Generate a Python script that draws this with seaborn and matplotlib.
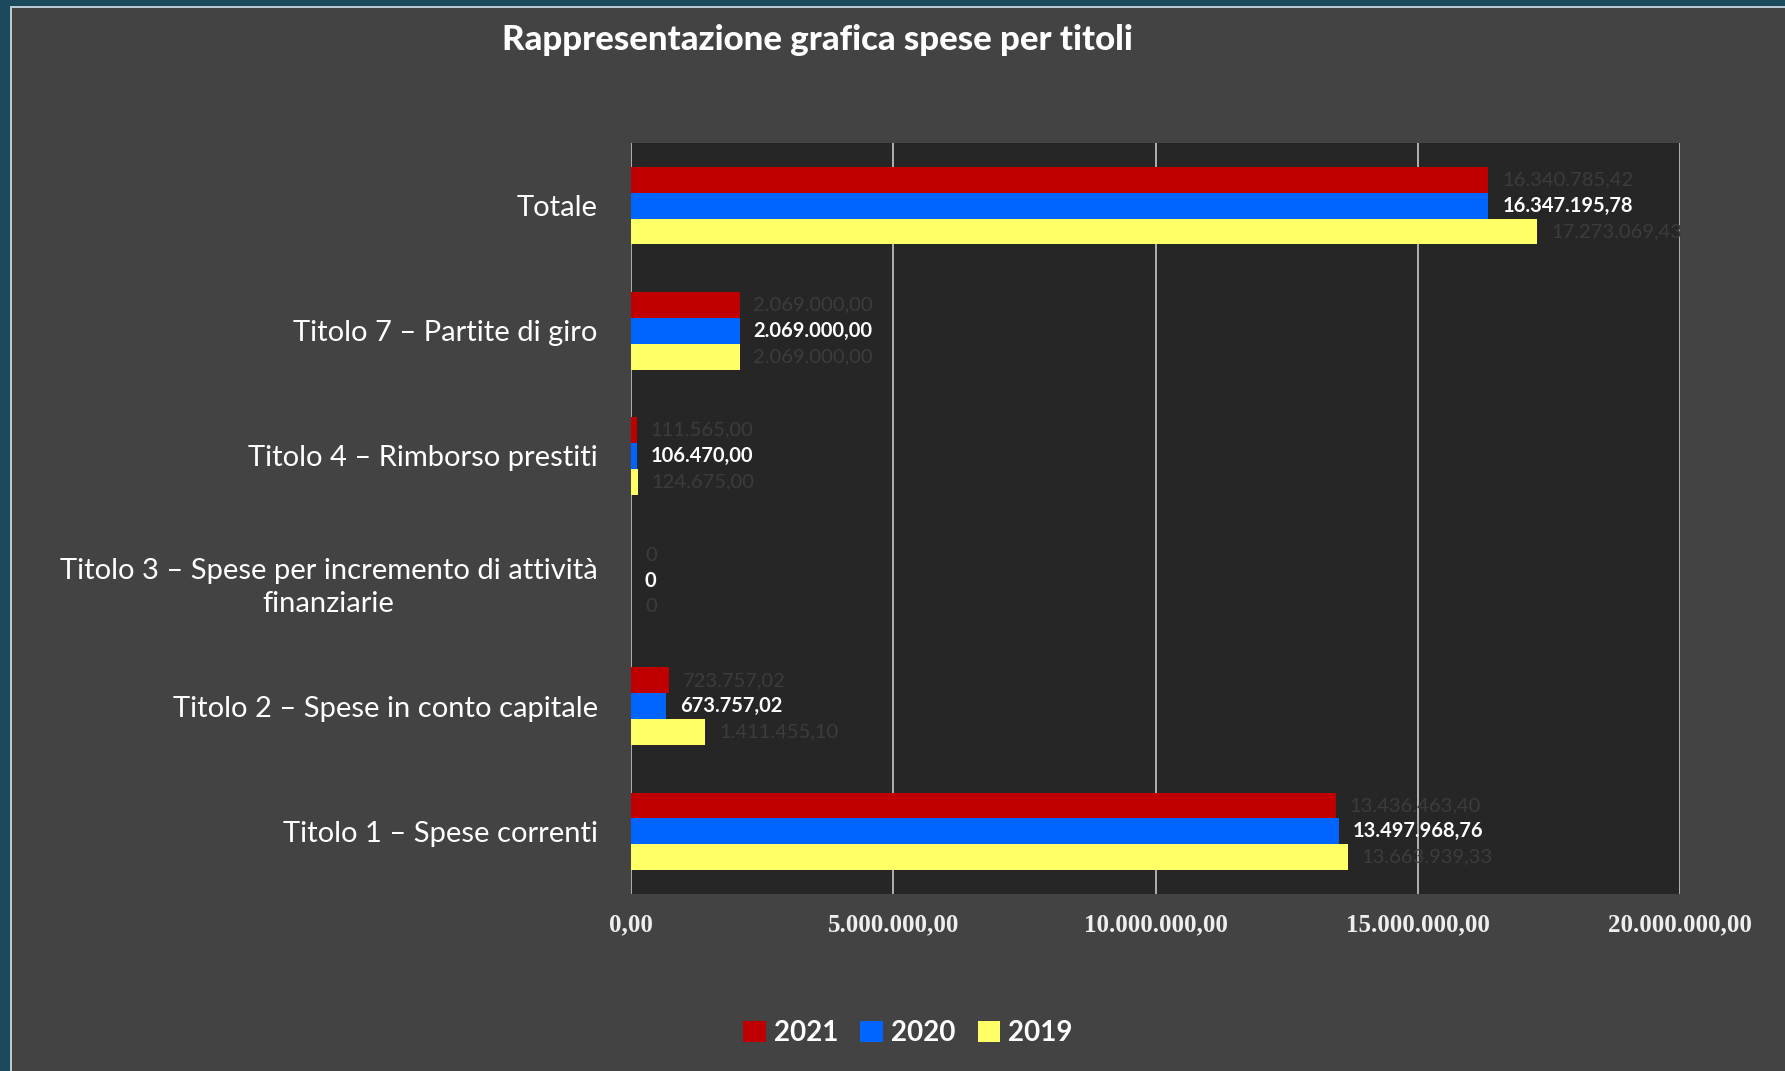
import numpy as np
import pandas as pd
import seaborn as sns
import matplotlib
matplotlib.use("Agg")
import matplotlib.pyplot as plt
from matplotlib.patches import Rectangle

# ---- data ----
categories = [
    "Totale",
    "Titolo 7 – Partite di giro",
    "Titolo 4 – Rimborso prestiti",
    "Titolo 3 – Spese per incremento di attività\nfinanziarie",
    "Titolo 2 – Spese in conto capitale",
    "Titolo 1 – Spese correnti",
]
years = ["2021", "2020", "2019"]
spese_2021 = [16340785.42, 2069000.00, 111565.00, 0, 723757.02, 13436463.40]
spese_2020 = [16347195.78, 2069000.00, 106470.00, 0, 673757.02, 13497968.76]
spese_2019 = [17273069.43, 2069000.00, 124675.00, 0, 1411455.10, 13663939.33]
x_ticks = [0, 5000000, 10000000, 15000000, 20000000]
title = "Rappresentazione grafica spese per titoli"

colors = {"2021": "#C00000", "2020": "#0064FF", "2019": "#FFFF66"}

series = {"2021": spese_2021, "2020": spese_2020, "2019": spese_2019}
df = pd.DataFrame(
    [(c, y, v) for y in years for c, v in zip(categories, series[y])],
    columns=["Categoria", "Anno", "Valore"],
)


def fmt(v):
    if v == 0:
        return "0"
    s = f"{v:,.2f}"
    return s.replace(",", "X").replace(".", ",").replace("X", ".")


W, H = 1785, 1071
plt.rcParams["font.family"] = ["Lato", "DejaVu Sans"]

fig = plt.figure(figsize=(W / 100, H / 100), dpi=100)
fig.patch.set_facecolor("#1b4a5c")
fig.patches.append(Rectangle((10 / W, 0), 1, 1 - 6 / H, transform=fig.transFigure,
                             facecolor="#b9c9d1", edgecolor="none", zorder=-20))
fig.patches.append(Rectangle((12 / W, 0), 1, 1 - 8 / H, transform=fig.transFigure,
                             facecolor="#434343", edgecolor="none", zorder=-10))

ax = fig.add_axes([631 / W, 1 - 894 / H, (1680 - 631) / W, (894 - 143) / H])
ax.set_zorder(1)
ax.set_facecolor("#262626")

sns.barplot(data=df, y="Categoria", x="Valore", hue="Anno", hue_order=years,
            order=categories, palette=colors, orient="h", width=0.62,
            saturation=1, ax=ax, legend=True)

handles, labels = ax.get_legend_handles_labels()
if ax.get_legend() is not None:
    ax.get_legend().remove()

label_styles = {
    "2021": dict(color="#3c3c3c", fontweight="normal"),
    "2020": dict(color="white", fontweight="bold"),
    "2019": dict(color="#3c3c3c", fontweight="normal"),
}
for cont, y in zip(ax.containers, years):
    ax.bar_label(cont, labels=[fmt(v) for v in series[y]], padding=10,
                 fontsize=14.5, **label_styles[y])

ax.set_xlim(0, 20000000)
ax.set_xticks(x_ticks)
ax.set_xticklabels([fmt(t) if t != 0 else "0,00" for t in x_ticks],
                   fontfamily=["Liberation Serif"], fontweight="bold",
                   fontsize=18, color="#eeeeee")
ax.tick_params(axis="x", length=0, pad=14)
ax.tick_params(axis="y", length=0, pad=24, labelsize=21, labelcolor="white")
for t in ax.get_yticklabels():
    t.set_multialignment("center")
    t.set_linespacing(1.35)
ax.grid(axis="x", color="#c8c8c8", linewidth=1.2)
ax.grid(axis="y", visible=False)
ax.set_axisbelow(True)
for s in ax.spines.values():
    s.set_visible(False)
ax.set_xlabel("")
ax.set_ylabel("")

fig.text(817 / W, 1 - 40 / H, title, ha="center", va="center",
         fontsize=25, fontweight="black", color="white")

leg = fig.legend(handles, labels, loc="center", bbox_to_anchor=(908 / W, 1 - 1033 / H),
                 ncol=3, frameon=False, handlelength=0.8,
                 handleheight=0.8, handletextpad=0.3, columnspacing=0.8,
                 labelcolor="white", prop={"weight": "bold", "size": 20})

fig.savefig("out.png", dpi=100, facecolor=fig.get_facecolor())
